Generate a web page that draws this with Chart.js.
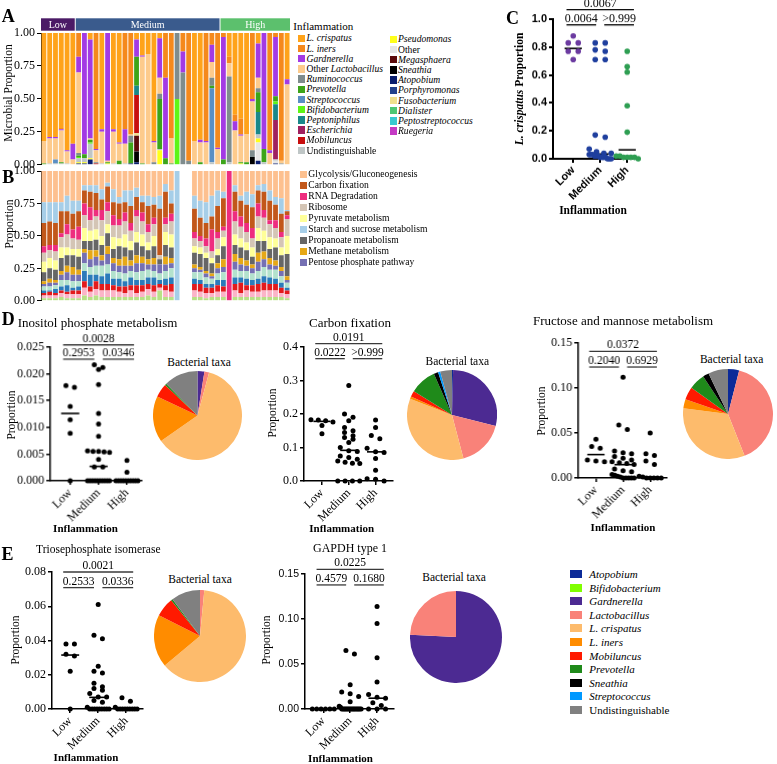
<!DOCTYPE html>
<html>
<head>
<meta charset="utf-8">
<script src="https://cdn.jsdelivr.net/npm/chart.js@4.4.1/dist/chart.umd.min.js"></script>
<style>
  body { margin: 0; width: 777px; height: 764px; position: relative; overflow: hidden; background: #fff;
         font-family: "Liberation Serif", "Times New Roman", serif; color: #000; }
  canvas { position: absolute; }
  .t { position: absolute; transform: translate(-50%, -50%); white-space: nowrap; line-height: 1; }
  .r { transform: translate(-50%, -50%) rotate(-90deg); }
  .lt { position: absolute; transform: translateY(-50%); white-space: nowrap; line-height: 1; }
  .sw { position: absolute; }
</style>
</head>
<body>
<script>
"use strict";

// ═══════════ data ═══════════

const groupNames = ["Low", "Medium", "High"];
const groupSizes = [6, 25, 12];
const groupColors = ["#4b1a66", "#3a5b8d", "#5cc06d"];

// panel A: taxa (legend order) and per-sample proportions
const taxaA = ["L. crispatus", "L. iners", "Gardnerella", "Other Lactobacillus", "Ruminococcus", "Prevotella",
  "Streptococcus", "Bifidobacterium", "Peptoniphilus", "Escherichia", "Mobiluncus", "Undistinguishable",
  "Pseudomonas", "Other", "Megasphaera", "Sneathia", "Atopobium", "Porphyromonas", "Fusobacterium",
  "Dialister", "Peptostreptococcus", "Ruegeria"];
const colorsA = ["#ffa31a", "#f5891c", "#a33ae4", "#fdcb8c", "#7f8c8d", "#3da51a", "#5a8fc4", "#5ef516",
  "#19888a", "#a0205f", "#c80e0e", "#bfc6c6", "#ffff1a", "#e6e6e6", "#5c0a0a", "#000000", "#0a1e6e",
  "#23418c", "#f0e08c", "#4dc772", "#38c9cf", "#c43ac4"];

const aCrispatus = [.82,.79,.79,.72,.89,.84,0,0,.05,0, .73,0,.73,.83,0,0,.05,.17,.16,.82, .04,0,0,0,0,0,.82,.81,0,0, 0,0,.18,.62,.65,.77,0,.08,0,0, 0,0,.35];
const aIners = [0,0,0,.01,0,0,.18,0,0,.88, 0,0,0,0,.73,.77,0,0,0,0, 0,.34,.80,0,.14,.97,0,0,.82,.09, .87,.03,.05,.05,.12,0,.50,0,0,.89, .03,.97,0];
const aGardnerella = [0,.01,.01,.01,.01,.12,.12,.92,.75,.01, .02,.97,.02,.01,.11,0,.13,.01,0,.01, .30,.61,0,0,.16,0,0,.02,.01,.13, .01,.93,0,.07,.01,0,.02,.26,.88,.02, .45,0,.04];
const aOtherLacto = [.17,.19,.16,.24,.09,.04,.61,0,.01,.09, .24,.01,.24,.13,.15,.01,0,.81,.84,.15, .12,0,.19,0,0,0,.18,.15,.17,.12, .12,0,.10,.26,.20,.21,.37,.08,0,.09, 0,.02,.61];
const aRuminococcus = [0,0,0,0,0,0,.02,0,0,.01, 0,0,0,0,0,.05,0,0,0,.02, .04,0,0,.50,.70,.03,0,0,0,.06, 0,0,.65,0,0,0,.05,.03,0,0, 0,.01,0];
const aPrevotella = [.01,0,0,.01,0,0,.01,.03,.02,0, 0,.01,0,.03,0,.16,.22,.01,0,0, .38,.05,.01,0,0,0,0,.02,0,.02, 0,.04,0,0,.01,.02,0,.15,.10,0, .04,0,0];
const aStreptococcus = [0,0,.03,0,0,0,0,0,0,0, 0,0,0,0,0,0,0,0,0,0, 0,0,0,0,0,0,0,0,0,.56, 0,0,0,0,0,0,0,0,0,0, 0,0,0];
const aBifido = [0,0,0,0,0,0,.01,0,.01,0, 0,0,0,0,0,0,0,0,0,0, 0,0,0,.50,0,0,0,0,0,0, 0,0,0,0,0,0,0,0,0,0, .02,0,0];
const aPeptoniphilus = [0,0,0,0,0,0,0,0,0,0, 0,0,0,0,0,0,.07,0,0,0, 0,0,0,0,0,0,0,0,0,0, 0,0,0,0,0,0,0,.17,0,0, .12,0,0];
const aEscherichia = [0,0,0,0,0,0,0,0,0,0, 0,0,0,0,0,0,0,0,0,0, 0,0,0,0,0,0,0,0,0,0, 0,0,0,0,0,0,0,0,0,0, .30,0,0];
const aMobiluncus = [0,0,0,0,0,0,0,0,0,.01, 0,0,0,0,0,0,.29,0,0,0, 0,0,0,0,0,0,0,0,0,0, 0,0,0,0,0,0,0,0,0,0, 0,0,0];
const aUndist = [0,.01,.01,.01,.01,0,.03,.03,.11,0, .01,0,.01,0,.01,0,0,0,0,0, .01,0,0,0,0,0,0,0,0,.02, 0,0,.02,0,0,0,0,.03,.02,0, .01,0,0];
const aPseudomonas = [0,0,0,0,0,0,.01,.01,.01,0, 0,.01,0,0,0,0,0,0,0,0, .11,0,0,0,0,0,0,0,0,0, 0,0,0,0,.01,0,0,.03,0,0, 0,0,0];
const aOther = [0,0,0,0,0,0,0,0,0,0, 0,0,0,0,0,0,0,0,0,0, 0,0,0,0,0,0,0,0,0,0, 0,0,0,0,0,0,0,.14,0,0, .02,0,0];
const aMegasphaera = [0,0,0,0,0,0,0,0,0,0, 0,0,0,0,0,0,.12,0,0,0, 0,0,0,0,0,0,0,0,0,0, 0,0,0,0,0,0,0,0,0,0, 0,0,0];
const aSneathia = [0,0,0,0,0,0,0,0,0,0, 0,0,0,0,0,0,.08,0,0,0, 0,0,0,0,0,0,0,0,0,0, 0,0,0,0,0,0,.06,0,0,0, 0,0,0];
const aAtopobium = [0,0,0,0,0,0,.01,.01,.04,0, 0,0,0,0,0,.01,.02,0,0,0, 0,0,0,0,0,0,0,0,0,0, 0,0,0,0,0,0,0,.03,0,0, .01,0,0];
const aFuso = [0,0,0,0,0,0,0,0,0,0, 0,0,0,0,0,0,.02,0,0,0, 0,0,0,0,0,0,0,0,0,0, 0,0,0,0,0,0,0,0,0,0, 0,0,0];

// panel B: pathways (legend order) + unlabeled remainder; null = sample missing
const pathwaysB = ["Glycolysis/Gluconeogenesis", "Carbon fixation", "RNA Degradation", "Ribosome", "Pyruvate metabolism",
  "Starch and sucrose metabolism", "Propanoate metabolism", "Methane metabolism", "Pentose phosphate pathway"];
const colorsB = ["#fdc08f", "#c2571a", "#ee2d7f", "#d4c5b5", "#ffff99", "#a6cee8", "#666666", "#e6a817", "#7570b3"];
const bGlyco = [.24,.24,.24,.24,.19,.23,.23,.11,.11,.11, .14,.09,.14,.20,.15,.15,.13,.19,.19,.20, .19,.10,.15,0,null,null,.19,.23,.24,.19, .15,.16,0,.11,.19,.16,.18,.11,.10,.15, .20,.21,.30];
const bCarbon = [.18,.18,.17,.17,.10,.12,.12,.10,.12,.13, .08,.12,.10,.12,.08,.13,.10,.08,.14,.10, .36,.20,.08,0,null,null,.18,.14,.12,.10, .20,.22,0,.15,.12,.14,.16,.10,.14,.15, .12,.14,.03];
const bRna = [.05,.04,.05,.03,.08,.07,.10,.09,.10,.05, .08,.07,.08,.05,.07,.06,.05,.07,.06,.05, 0,.05,.06,0,null,null,.05,.04,.06,.17, .05,.03,1,.08,.08,.07,.08,.10,.06,.03, .06,.04,.03];
const bRibo = [.07,.06,.07,.08,.10,.08,.07,.10,.08,.10, .12,.10,.09,.10,.10,.08,.12,.10,.08,.09, .03,.06,.10,0,null,null,.06,.05,.05,.05, .08,.05,0,.10,.09,.08,.07,.09,.10,.10, .08,.08,.13];
const bPyruvate = [.08,.08,.07,.08,.06,.05,.06,.10,.08,.08, .07,.07,.09,.06,.10,.07,.08,.09,.06,.08, 0,.10,.10,0,null,null,.05,.05,.04,.04, .05,.07,0,.08,.07,.06,.07,.10,.08,.09, .07,.06,.14];
const bStarch = [.16,.15,.16,.07,.12,.10,.08,.04,.05,.06, .08,.03,.10,.05,.09,.12,.07,.05,.08,.06, .10,.06,.10,1,null,null,.10,.13,.16,.16, .12,.05,0,.05,.04,.10,.10,.04,.06,.08, .06,.12,.01];
const bPropanoate = [.07,.08,.08,.10,.08,.09,.10,.06,.07,.08, .08,.10,.07,.10,.07,.08,.10,.08,.07,.09, .04,.09,.08,0,null,null,.09,.10,.10,.08, .06,.10,0,.07,.08,.08,.06,.09,.08,.07, .10,.09,.17];
const bMethane = [.02,.03,.02,.03,.05,.06,.04,.03,.07,.05, .04,.06,.04,.05,.07,.04,.06,.05,.04,.05, 0,.06,.04,0,null,null,.03,.02,.02,.02, .04,.06,0,.06,.05,.04,.03,.07,.06,.05, .04,.03,.03];
const bPentose = [.02,.03,.02,.04,.06,.05,.05,.08,.06,.07, .04,.08,.06,.05,.06,.04,.07,.06,.04,.05, .07,.05,.04,0,null,null,.03,.02,.03,.02, .04,.04,0,.06,.05,.04,.04,.07,.06,.04, .03,.04,.02];
const bMint = [.03,.03,.03,.05,.04,.05,.04,.06,.06,.07, .08,.07,.06,.05,.06,.05,.06,.07,.06,.05, .05,.06,.07,0,null,null,.05,.06,.05,.04, .05,.06,0,.06,.05,.06,.05,.06,.07,.06, .07,.05,.04];
const bBlue = [.02,.01,.03,.03,.05,.02,.03,.08,.09,.05, .06,.08,.05,.06,.04,.06,.04,.04,.05,.06, .03,.05,.05,0,null,null,.04,.03,.03,.03, .04,.05,0,.05,.04,.05,.04,.04,.05,.05, .04,.04,.02];
const bRed = [.02,.03,.02,.02,.02,.03,.03,.05,.04,.06, .05,.05,.04,.04,.05,.04,.06,.05,.04,.05, .03,.04,.06,0,null,null,.05,.06,.04,.04, .05,.04,0,.05,.08,.04,.05,.06,.06,.05, .05,.04,.03];
const bPink = [.02,.02,.02,.03,.03,.03,.03,.06,.04,.05, .05,.05,.05,.04,.03,.05,.03,.04,.05,.04, .02,.05,.04,0,null,null,.05,.04,.04,.03, .04,.04,0,.05,.03,.05,.04,.04,.05,.05, .05,.03,.03];
const bLime = [.02,.02,.02,.03,.02,.02,.02,.04,.03,.04, .03,.03,.03,.03,.03,.03,.03,.03,.04,.03, .08,.03,.03,0,null,null,.03,.03,.02,.03, .03,.03,0,.03,.03,.03,.03,.03,.03,.03, .03,.03,.02];

// panel C: L. crispatus proportion
const cLow = [0.88, 0.83, 0.83, 0.77, 0.77, 0.71];
const cMedium = [0.83, 0.83, 0.78, 0.77, 0.71, 0.71, 0.17, 0.155, 0.07, 0.05, 0.04, 0.04, 0.03, 0.03, 0.03, 0.02, 0.02, 0.02, 0.01, 0.01, 0.01, 0.01, 0, 0, 0];
const cHigh = [0.77, 0.66, 0.62, 0.38, 0.19, 0.02, 0.02, 0.01, 0.01, 0.01, 0.01, 0];
const cMedians = [0.79, 0.034, 0.064];
const cPvalues = ["0.0064", ">0.999", "0.0067"];

// panels D/E: pathway proportions per group
const inositolLow = [0.0178, 0.0175, 0.0139, 0.0114, 0.0089, 0];
const inositolMedium = [0.0217, 0.0212, 0.0208, 0.0180, 0.0126, 0.0106, 0.0083, 0.0056, 0.0055, 0.0055, 0.0054, 0.0053, 0.0040, 0.0026, 0.0026, 0, 0, 0, 0, 0, 0, 0, 0, 0, 0];
const inositolHigh = [0.0038, 0.0016, 0, 0, 0, 0, 0, 0, 0, 0, 0, 0];
const inositolMedians = [0.0126, 0.0027, 0];
const inositolP = ["0.2953", "0.0346", "0.0028"];

const carbonLow = [0.183, 0.182, 0.180, 0.176, 0.166, 0.141];
const carbonMedium = [0.285, 0.200, 0.190, 0.180, 0.160, 0.150, 0.145, 0.135, 0.130, 0.125, 0.115, 0.100, 0.090, 0.088, 0.075, 0.070, 0.065, 0.060, 0.056, 0.053, 0.052, 0, 0, 0, 0];
const carbonHigh = [0.182, 0.160, 0.136, 0.126, 0.098, 0.087, 0.085, 0.067, 0.032, 0.007, 0.005, 0];
const carbonMedians = [0.178, 0.0915, 0.087];
const carbonP = ["0.0222", ">0.999", "0.0191"];

const fructoseLow = [0.043, 0.035, 0.033, 0.020, 0.019, 0.018];
const fructoseMedium = [0.112, 0.059, 0.054, 0.030, 0.028, 0.027, 0.024, 0.022, 0.020, 0.018, 0.017, 0.016, 0.015, 0.010, 0.008, 0.007, 0.004, 0.003, 0.002, 0.001, 0, 0, 0, 0, 0];
const fructoseHigh = [0.050, 0.027, 0.025, 0.019, 0.015, 0.002, 0.001, 0, 0, 0, 0, 0];
const fructoseMedians = [0.026, 0.0148, 0.001];
const fructoseP = ["0.2040", "0.6929", "0.0372"];

const trioseLow = [0.038, 0.038, 0.032, 0.031, 0.022, 0];
const trioseMedium = [0.061, 0.043, 0.041, 0.025, 0.022, 0.021, 0.015, 0.013, 0.012, 0.011, 0.009, 0.007, 0.007, 0.005, 0.004, 0.001, 0, 0, 0, 0, 0, 0, 0, 0, 0];
const trioseHigh = [0.0065, 0.0045, 0.001, 0, 0, 0, 0, 0, 0, 0, 0, 0];
const trioseMedians = [0.0315, 0.0068, 0];
const trioseP = ["0.2533", "0.0336", "0.0021"];

const gapdhLow = [0, 0, 0, 0, 0, 0];
const gapdhMedium = [0.065, 0.061, 0.027, 0.019, 0.017, 0.014, 0.008, 0.003, 0.002, 0, 0, 0, 0, 0, 0, 0, 0, 0, 0, 0, 0, 0, 0, 0, 0];
const gapdhHigh = [0.114, 0.095, 0.057, 0.030, 0.016, 0.013, 0.012, 0.007, 0.004, 0, 0, 0];
const gapdhMedians = [0, 0, 0.012];
const gapdhP = ["0.4579", "0.1680", "0.0225"];

// pies: bacterial taxa share (%)
const pieTaxa = ["Atopobium", "Bifidobacterium", "Gardnerella", "Lactobacillus", "L. crispatus", "L. iners",
  "Mobiluncus", "Prevotella", "Sneathia", "Streptococcus", "Undistinguishable"];
const pieColors = ["#0c2a98", "#80ff00", "#4c2a92", "#f98279", "#fdbb6c", "#ff8c00", "#ff1a00", "#1f8a1a",
  "#000000", "#0099ff", "#808080"];
const inositolPie = [0, 0, 2.5, 1.7, 61.1, 16.7, 5, 0.6, 0, 0, 12.4];
const carbonPie = [0.4, 0, 28.5, 17, 35, 0.8, 2.2, 9.5, 1.6, 0.8, 4.2];
const fructosePie = [4, 0, 0, 40, 33, 3.3, 4.6, 5.8, 2.2, 0, 7.1];
const triosePie = [0, 0, 0, 1.5, 62.4, 18.5, 6.8, 0.6, 0, 0, 10.2];
const gapdhPie = [0, 0, 75.8, 24.2, 0, 0, 0, 0, 0, 0, 0];

// ═══════════ helpers ═══════════

const serif = '"Liberation Serif", "Times New Roman", serif';
const sans = '"Liberation Sans", Arial, sans-serif';
Chart.defaults.font.family = serif;
Chart.defaults.color = "#000";

const common = {
  responsive: false, animation: false, events: [],
  plugins: { legend: { display: false }, tooltip: { enabled: false } },
};

function mkCanvas(x, y, w, h) {
  const c = document.createElement("canvas");
  c.width = w; c.height = h;
  Object.assign(c.style, { left: x + "px", top: y + "px", width: w + "px", height: h + "px" });
  document.body.appendChild(c);
  return c;
}

function text(html, cx, cy, css, cls) {
  const d = document.createElement("div");
  d.className = cls || "t";
  d.innerHTML = html;
  d.style.cssText = `left:${cx}px;top:${cy}px;` + (css || "");
  document.body.appendChild(d);
  return d;
}

function swatch(x, y, w, h, color) {
  const s = document.createElement("div");
  s.className = "sw";
  s.style.cssText = `left:${x}px;top:${y - h / 2}px;width:${w}px;height:${h}px;background:${color}`;
  document.body.appendChild(s);
}

const plain = ["Other", "Undistinguishable"];
function taxonHtml(n) {
  if (plain.includes(n)) return n;
  if (n === "Other Lactobacillus") return "Other <i>Lactobacillus</i>";
  return "<i>" + n + "</i>";
}

const sampleIds = [];
groupSizes.forEach((n, g) => { for (let i = 0; i < n; i++) sampleIds.push(groupNames[g] + (i + 1)); });

// ═══════════ A / B stacked bars ═══════════

const groupHeader = {
  id: "groupHeader",
  afterDraw(chart) {
    const { ctx, scales: { x }, chartArea } = chart;
    const half = (x.getPixelForValue(1) - x.getPixelForValue(0)) / 2;
    let start = 0;
    ctx.save();
    ctx.font = `10px ${serif}`;
    ctx.textAlign = "center";
    ctx.textBaseline = "middle";
    groupNames.forEach((name, i) => {
      const end = start + groupSizes[i] - 1;
      const x0 = x.getPixelForValue(start) - half;
      const x1 = x.getPixelForValue(end) + half - (i < groupNames.length - 1 ? 1 : 0);
      const y0 = chartArea.top - 14.7, h = 12.4;
      ctx.fillStyle = groupColors[i];
      ctx.fillRect(x0, y0, x1 - x0, h);
      ctx.fillStyle = "#fff";
      ctx.fillText(name, (x0 + x1) / 2, y0 + h / 2 + 0.5);
      start = end + 1;
    });
    ctx.restore();
  },
};

function stackBar(canvas, datasets, padding, plugins) {
  return new Chart(canvas, {
    type: "bar",
    data: { labels: sampleIds, datasets },
    plugins: plugins || [],
    options: {
      ...common,
      layout: { padding },
      datasets: { bar: { categoryPercentage: 1, barPercentage: 0.83, borderWidth: 0 } },
      scales: {
        x: { stacked: true, display: false },
        y: {
          stacked: true, min: 0, max: 1,
          afterFit: (s) => { s.width = 41; },
          ticks: { stepSize: 0.25, callback: (v) => v.toFixed(2), font: { size: 12 }, padding: 2 },
          grid: { drawOnChartArea: false, tickLength: 4, color: "#000" },
          border: { color: "#000" },
        },
      },
    },
  });
}

const seriesA = [
  ["Atopobium", aAtopobium], ["Sneathia", aSneathia], ["Megasphaera", aMegasphaera], ["Fusobacterium", aFuso],
  ["Other", aOther], ["Pseudomonas", aPseudomonas], ["Undistinguishable", aUndist], ["Mobiluncus", aMobiluncus],
  ["Escherichia", aEscherichia], ["Peptoniphilus", aPeptoniphilus], ["Bifidobacterium", aBifido],
  ["Streptococcus", aStreptococcus], ["Prevotella", aPrevotella], ["Ruminococcus", aRuminococcus],
  ["Other Lactobacillus", aOtherLacto], ["Gardnerella", aGardnerella], ["L. iners", aIners], ["L. crispatus", aCrispatus],
];
stackBar(mkCanvas(0, 12, 292, 162),
  seriesA.map(([name, data]) => ({ label: name, data, backgroundColor: colorsA[taxaA.indexOf(name)] })),
  { top: 21, right: 2, bottom: 8.3 }, [groupHeader]);

const seriesB = [
  ["lime", bLime, "#b8e186"], ["pink", bPink, "#fbb4c8"], ["red", bRed, "#e31a1c"], ["blue", bBlue, "#2b7bba"],
  ["mint", bMint, "#b3e2cd"],
  ["Pentose phosphate pathway", bPentose], ["Methane metabolism", bMethane], ["Propanoate metabolism", bPropanoate],
  ["Pyruvate metabolism", bPyruvate], ["Ribosome", bRibo], ["RNA Degradation", bRna], ["Carbon fixation", bCarbon],
  ["Starch and sucrose metabolism", bStarch], ["Glycolysis/Gluconeogenesis", bGlyco],
];
stackBar(mkCanvas(0, 158, 292, 152),
  seriesB.map(([name, data, col]) => ({ label: name, data, backgroundColor: col || colorsB[pathwaysB.indexOf(name)] })),
  { top: 13, right: 2, bottom: 8.3 });

// legends A / B
text("Inflammation", 323.3, 25.8, "font-size:11px");
taxaA.forEach((n, i) => {
  const col = i < 12 ? 0 : 1, row = i < 12 ? i : i - 12;
  const x = col ? 389.5 : 298, y = (col ? 39.3 : 38.3) + row * 10.2;
  swatch(x, y, 7, 7.5, colorsA[i]);
  text(taxonHtml(n), x + 8.5, y, "font-size:9.6px", "lt");
});
pathwaysB.forEach((n, i) => {
  const y = 174 + i * 11;
  swatch(300, y, 6.7, 7, colorsB[i]);
  text(n, 308.3, y, "font-size:9.6px", "lt");
});

text("Microbial Proportion", 9.3, 93, "font-size:11.5px", "t r");
text("Proportion", 9.5, 224, "font-size:11.5px", "t r");

// ═══════════ dot plots (C, D, E) ═══════════

function spread(vals, g, pxX, pxY, maxGap) {
  const order = vals.map((v, i) => i).sort((a, b) => vals[b] - vals[a]);
  const rows = [];
  order.forEach((i) => {
    const row = rows[rows.length - 1];
    if (row && Math.abs(vals[row[0]] - vals[i]) * pxY < 4.5) row.push(i);
    else rows.push([i]);
  });
  const pts = [];
  rows.forEach((row) => {
    const n = row.length, gap = n > 1 ? Math.min(maxGap, 22 / (n - 1)) : 0;
    row.forEach((i, k) => pts.push({ x: g + (k - (n - 1) / 2) * gap / pxX, y: vals[i] }));
  });
  return pts;
}

const pvalLabels = {
  id: "pvals",
  afterDatasetsDraw(chart, args, o) {
    const { ctx, scales: { x, y } } = chart;
    ctx.save();
    ctx.font = o.font;
    ctx.fillStyle = "#000";
    ctx.textAlign = "center";
    ctx.textBaseline = "alphabetic";
    o.items.forEach((it) => ctx.fillText(it.text, x.getPixelForValue(it.x), y.getPixelForValue(it.y) - 3));
    ctx.restore();
  },
};

function dotPlot(p) {
  const yW = 44, padTop = p.padTop || 26, padR = 8, xH = 50;
  const canvas = mkCanvas(p.left - yW, p.top - padTop, yW + p.w + padR, padTop + p.h + xH);
  const pxX = p.w / (p.xMax - p.xMin), pxY = p.h / p.yMax;
  const lw = p.axisWidth || 1.5;
  const datasets = [];
  p.groups.forEach((vals, g) => datasets.push({
    data: spread(vals, g, pxX, pxY, p.gap || 8.5),
    backgroundColor: p.colors ? p.colors[g] : "#000", pointRadius: p.r || 2.5, borderWidth: 0, clip: false,
  }));
  p.medians.forEach((m, g) => datasets.push({
    data: [{ x: g - 0.32, y: m }, { x: g + 0.32, y: m }],
    showLine: true, borderColor: "#000", borderWidth: 1.6, pointRadius: 0, clip: false,
  }));
  const lo = p.brLow * p.yMax, hi = p.brTop * p.yMax;
  const brackets = [[-0.25, 0.85, lo], [1.15, 2.25, lo], [-0.25, 2.25, hi]];
  brackets.forEach(([a, b, yv]) => datasets.push({
    data: [{ x: a, y: yv }, { x: b, y: yv }],
    showLine: true, borderColor: p.bracketColor || "#3a3a3a", borderWidth: 1.3, pointRadius: 0, clip: false,
  }));
  const items = brackets.map(([a, b, yv], i) => ({ text: p.pvals[i], x: (a + b) / 2, y: yv }));

  return new Chart(canvas, {
    type: "scatter",
    data: { datasets },
    plugins: [pvalLabels],
    options: {
      ...common,
      layout: { padding: { top: padTop, right: padR } },
      plugins: { ...common.plugins, pvals: { items, font: `${p.pFont || 11.5}px ${serif}` } },
      scales: {
        x: {
          type: "linear", min: p.xMin, max: p.xMax,
          afterFit: (s) => { s.height = xH; },
          afterBuildTicks: (s) => { s.ticks = [0, 1, 2].map((v) => ({ value: v })); },
          ticks: { autoSkip: false, minRotation: 45, maxRotation: 45, padding: 1,
                   font: p.xFont || { size: 12 }, callback: (v) => groupNames[v] },
          grid: { drawOnChartArea: false, tickLength: 4, color: "#000", lineWidth: lw },
          border: { color: "#000", width: lw },
        },
        y: {
          min: 0, max: p.yMax,
          afterFit: (s) => { s.width = yW; },
          ticks: { stepSize: p.step, padding: 2, font: p.yFont || { size: 12 },
                   callback: (v) => v.toFixed(p.dec) },
          grid: { drawOnChartArea: false, tickLength: 4, color: "#000", lineWidth: lw },
          border: { color: "#000", width: lw },
        },
      },
    },
  });
}

dotPlot({ left: 553, top: 19.3, w: 85, h: 139.7, yMax: 1, step: 0.2, dec: 1, xMin: -0.75, xMax: 2.4,
  groups: [cLow, cMedium, cHigh], colors: ["#6b3aa0", "#1f3f9e", "#2e9e52"], medians: cMedians,
  pvals: cPvalues, brLow: 0.959, brTop: 1.067, padTop: 20, r: 2.8, gap: 10, axisWidth: 2, bracketColor: "#000",
  pFont: 12, yFont: { family: sans, size: 11, weight: "bold" }, xFont: { family: sans, size: 11, weight: "bold" } });

dotPlot({ left: 50, top: 347.3, w: 91.7, h: 133.7, yMax: 0.025, step: 0.005, dec: 3, xMin: -0.7, xMax: 2.53,
  groups: [inositolLow, inositolMedium, inositolHigh], medians: inositolMedians, pvals: inositolP,
  brLow: 0.91, brTop: 1.017 });
dotPlot({ left: 304.3, top: 346.7, w: 89, h: 134, yMax: 0.4, step: 0.1, dec: 1, xMin: -0.67, xMax: 2.65,
  groups: [carbonLow, carbonMedium, carbonHigh], medians: carbonMedians, pvals: carbonP,
  brLow: 0.913, brTop: 1.025 });
dotPlot({ left: 578.3, top: 343.3, w: 88.4, h: 135, yMax: 0.15, step: 0.05, dec: 2, xMin: -0.65, xMax: 2.62,
  groups: [fructoseLow, fructoseMedium, fructoseHigh], medians: fructoseMedians, pvals: fructoseP,
  brLow: 0.822, brTop: 0.938 });
dotPlot({ left: 51.7, top: 571.7, w: 91.6, h: 137.3, yMax: 0.08, step: 0.02, dec: 2, xMin: -0.65, xMax: 2.6,
  groups: [trioseLow, trioseMedium, trioseHigh], medians: trioseMedians, pvals: trioseP,
  brLow: 0.886, brTop: 1.0 });
dotPlot({ left: 305, top: 574, w: 89.3, h: 135, yMax: 0.15, step: 0.05, dec: 2, xMin: -0.68, xMax: 2.63,
  groups: [gapdhLow, gapdhMedium, gapdhHigh], medians: gapdhMedians, pvals: gapdhP,
  brLow: 0.919, brTop: 1.035, yFont: { family: sans, size: 10.5 } });

// ═══════════ pies ═══════════

function pie(cx, cy, r, values) {
  const s = Math.round(2 * r);
  new Chart(mkCanvas(cx - r, cy - r, s, s), {
    type: "pie",
    data: { labels: pieTaxa, datasets: [{ data: values, backgroundColor: pieColors, borderWidth: 0,
                                          hoverOffset: 0, offset: 0 }] },
    options: { ...common, layout: { padding: 0 } },
  });
}
pie(197.5, 415, 44.5, inositolPie);
pie(451.5, 414.7, 45, carbonPie);
pie(728.3, 414.3, 45, fructosePie);
pie(200, 636.3, 46, triosePie);
pie(455.5, 637, 46, gapdhPie);

pieTaxa.forEach((n, i) => {
  const y = 574 + i * 13.6;
  swatch(570, y, 11.7, 8, pieColors[i]);
  text(taxonHtml(n), 589.3, y, "font-size:11px", "lt");
});

// ═══════════ titles and labels ═══════════

const letter = "font-size:18px;font-weight:bold";
text("A", 8.3, 15.8, letter);
text("B", 8.3, 177, letter);
text("C", 512.5, 17.5, letter);
text("D", 8.3, 319, letter);
text("E", 7.5, 554, letter);

text("<b><i>L. crispatus</i> Proportion</b>", 520, 89, "font-size:11.5px", "t r");
text("<b>Inflammation</b>", 593, 211, "font-size:11.5px");

text("Inositol phosphate metabolism", 97.5, 322, "font-size:13px");
text("Carbon fixation", 350, 321.7, "font-size:13px");
text("Fructose and mannose metabolism", 623, 320, "font-size:13px");
text("Triosephosphate isomerase", 98.3, 550, "font-size:11.5px");
text("GAPDH type 1", 350, 548, "font-size:12px");

[[12, 415], [273.3, 413], [541.7, 411], [16, 640], [266.7, 640]].forEach(([x, y]) =>
  text("Proportion", x, y, "font-size:11.5px", "t r"));
[[85.5, 527.5], [341.7, 528], [623, 527], [86, 757], [340.5, 758]].forEach(([x, y]) =>
  text("<b>Inflammation</b>", x, y, "font-size:11px"));
[[199, 362.5], [457.3, 361.7], [731.7, 360], [200, 580], [454, 578.3]].forEach(([x, y]) =>
  text("Bacterial taxa", x, y, "font-size:11.5px"));
</script>
</body>
</html>
